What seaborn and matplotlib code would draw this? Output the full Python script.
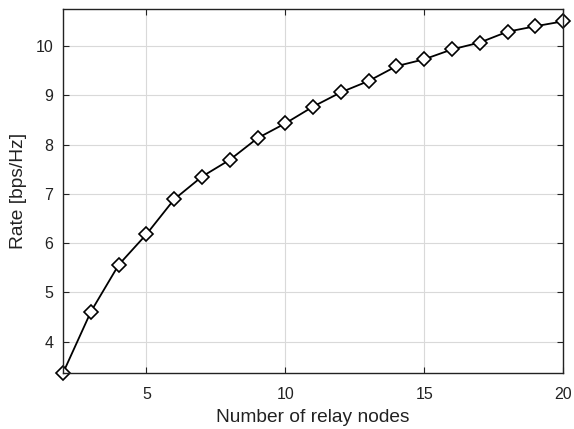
import matplotlib
matplotlib.use("Agg")
import matplotlib.pyplot as plt
import seaborn as sns
import pandas as pd

relay_nodes = [2, 3, 4, 5, 6, 7, 8, 9, 10, 11, 12, 13, 14, 15, 16, 17, 18, 19, 20]
rate = [3.37, 4.61, 5.56, 6.18, 6.89, 7.35, 7.69, 8.13, 8.43, 8.77, 9.06, 9.29,
        9.59, 9.73, 9.93, 10.07, 10.29, 10.40, 10.50]
x_ticks = [5, 10, 15, 20]
y_ticks = [4, 5, 6, 7, 8, 9, 10]

df = pd.DataFrame({"relay": relay_nodes, "rate": rate})

sns.set_style("whitegrid")
plt.rcParams["font.family"] = ["Liberation Sans", "DejaVu Sans"]

fig = plt.figure(figsize=(5.74, 4.29), dpi=100)
ax = fig.add_axes([0.110, 0.1305, 0.871, 0.8485])

sns.lineplot(data=df, x="relay", y="rate", ax=ax, color="black", linewidth=1.3,
             marker="D", markersize=7, markerfacecolor="white",
             markeredgecolor="black", markeredgewidth=1.2, clip_on=False)

ax.set_xlim(2, 20)
ax.set_ylim(3.365, 10.75)
ax.set_xticks(x_ticks)
ax.set_yticks(y_ticks)
ax.grid(True, color="#d9d9d9", linewidth=0.8)
for s in ax.spines.values():
    s.set_color("#222222")
    s.set_linewidth(1.0)
ax.tick_params(direction="in", length=4, width=0.8, colors="#222222",
               labelsize=11.5, top=True, right=True, left=True, bottom=True)
ax.tick_params(axis="x", pad=10)
ax.tick_params(axis="y", pad=7)
ax.set_xlabel("Number of relay nodes", fontsize=13.8, color="#222222", labelpad=5)
ax.set_ylabel("Rate [bps/Hz]", fontsize=13.8, color="#222222", labelpad=6)

fig.savefig("out.png", dpi=100)
